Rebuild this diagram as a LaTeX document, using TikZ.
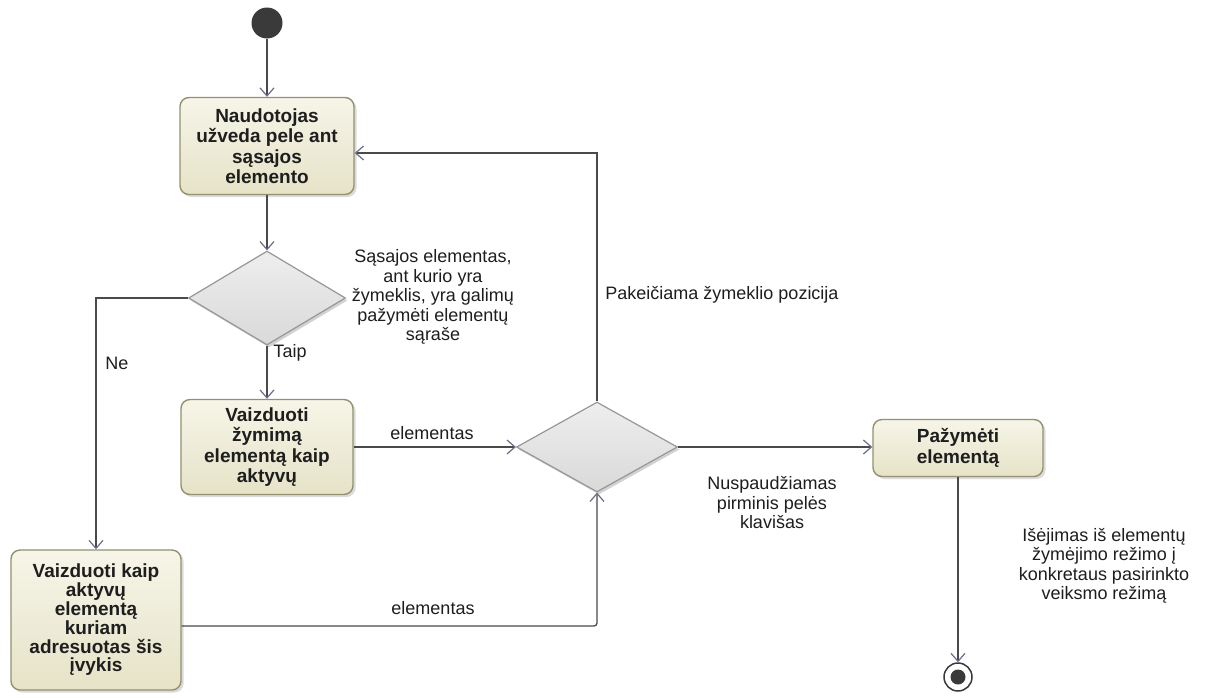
\documentclass[tikz,border=0pt]{standalone}
\usepackage{fontspec}
\setmainfont{Liberation Sans}
\usetikzlibrary{arrows.meta,shapes.geometric,shadows}
\definecolor{boxborder}{HTML}{939170}
\definecolor{boxtop}{HTML}{F6F5E8}
\definecolor{boxbot}{HTML}{E6E3C8}
\definecolor{decborder}{HTML}{979797}
\definecolor{dectop}{HTML}{EEEEEE}
\definecolor{decbot}{HTML}{D9D9D9}
\definecolor{linec}{HTML}{4A4A4A}
\definecolor{tipc}{HTML}{6A6E88}
\definecolor{startc}{HTML}{3A3A3A}
\definecolor{txt}{HTML}{1E1E1E}
\begin{document}
\begin{tikzpicture}[x=1pt,y=-1pt,
  act/.style={rounded corners=9pt, draw=boxborder, line width=1.4pt,
    top color=boxtop, bottom color=boxbot,
    drop shadow={shadow xshift=2.5pt,shadow yshift=-2.5pt,fill=black!28},
    align=center, font=\fontsize{19}{20.5}\selectfont\bfseries, text=txt, inner sep=0pt},
  dec/.style={diamond, draw=decborder, line width=1.2pt,
    top color=dectop, bottom color=decbot,
    drop shadow={shadow xshift=2pt,shadow yshift=-2.5pt,fill=black!35},
    inner sep=0pt},
  flow/.style={draw=linec, line width=1.3pt,
    -{Straight Barb[length=8pt,width=14pt,color=tipc,line width=1.2pt]}},
  lbl/.style={font=\fontsize{18}{19.5}\selectfont, text=txt, align=center, inner sep=0pt},
]
\useasboundingbox[fill=white] (0,0) rectangle (1206,697);

% nodes
\node[circle, fill=startc, minimum size=31pt, inner sep=0pt] (start) at (267,23) {};
\node[act, minimum width=174pt, minimum height=97pt] (b1) at (267,146)
  {Naudotojas\\užveda pele ant\\sąsajos\\elemento};
\node[dec, minimum width=157pt, minimum height=94pt] (d1) at (267,298) {};
\node[act, minimum width=172pt, minimum height=95pt] (b2) at (267,447)
  {Vaizduoti\\žymimą\\elementą kaip\\aktyvų};
\node[dec, minimum width=161pt, minimum height=90pt] (d2) at (597,447) {};
\node[act, minimum width=170pt, minimum height=140pt, font=\fontsize{19}{18.8}\selectfont\bfseries] (b3) at (96,620)
  {Vaizduoti kaip\\aktyvų\\elementą\\kuriam\\adresuotas šis\\įvykis};
\node[act, minimum width=170pt, minimum height=57pt] (b4) at (958,448)
  {Pažymėti\\elementą};
\node[circle, draw=startc, line width=1.5pt, fill=white, minimum size=28pt, inner sep=0pt] (end) at (958,677) {};
\node[circle, fill=startc, minimum size=15pt, inner sep=0pt] (endin) at (end) {};

% labels
\node[lbl] (ld1) at (433,297) {Sąsajos elementas,\\ant kurio yra\\žymeklis, yra galimų\\pažymėti elementų\\sąraše};
\node[lbl] (ltaip) at (290,353) {Taip};
\node[lbl] (lne) at (117,363) {Ne};
\node[lbl] (lel1) at (432,433) {elementas};
\node[lbl] (lel2) at (433,608) {elementas};
\node[lbl] (lpak) at (722,295) {Pakeičiama žymeklio pozicija};
\node[lbl] (lnus) at (772,503) {Nuspaudžiamas\\pirminis pelės\\klavišas};
\node[lbl] (lis) at (1104,566) {Išėjimas iš elementų\\žymėjimo režimo į\\konkretaus pasirinkto\\veiksmo režimą};

% connectors
\draw[flow] (start) -- (b1);
\draw[flow] (b1) -- (d1);
\draw[flow] (d1) -- (b2);
\draw[flow] (d1.west) -| (b3.north);
\draw[flow] (b2) -- (d2);
\draw[flow, rounded corners=3pt] ([yshift=-6pt]b3.east) -| (d2.south);
\draw[flow] (d2.north) |- ([yshift=-7pt]b1.east);
\draw[flow] (d2.east) -- (d2.east -| b4.west);
\draw[flow] (b4) -- (end);
\end{tikzpicture}
\end{document}
